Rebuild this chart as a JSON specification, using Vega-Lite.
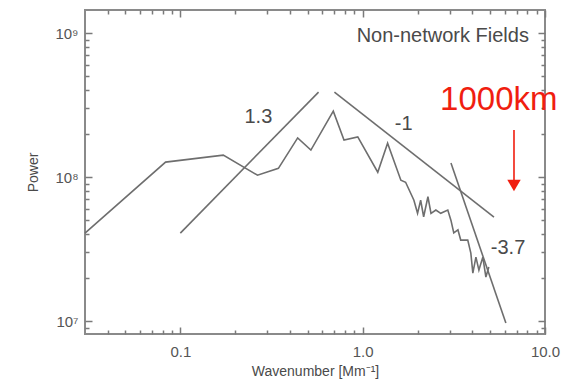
{
  "$schema": "https://vega.github.io/schema/vega-lite/v6.json",
  "width": 460,
  "height": 324,
  "autosize": "none",
  "padding": {"left": 85, "top": 10, "right": 30, "bottom": 46},
  "config": {
    "view": {"stroke": "#8a8a8a", "strokeWidth": 2},
    "font": "Liberation Sans",
    "axis": {
      "domain": false,
      "grid": false,
      "ticks": true,
      "tickColor": "#7a7a7a",
      "tickWidth": 1.5,
      "labelColor": "#555555",
      "labelFontSize": 15,
      "labelOverlap": false,
      "labelFlush": false,
      "labelBound": false,
      "titleColor": "#4a4a4a",
      "titleFontSize": 14,
      "titleFontWeight": "normal"
    }
  },
  "datasets": {
    "curves": [
      {"s": "spectrum", "x": 0.030, "y": 4.08e7},
      {"s": "spectrum", "x": 0.083, "y": 1.27e8},
      {"s": "spectrum", "x": 0.172, "y": 1.42e8},
      {"s": "spectrum", "x": 0.265, "y": 1.03e8},
      {"s": "spectrum", "x": 0.345, "y": 1.15e8},
      {"s": "spectrum", "x": 0.44, "y": 1.87e8},
      {"s": "spectrum", "x": 0.52, "y": 1.54e8},
      {"s": "spectrum", "x": 0.69, "y": 2.87e8},
      {"s": "spectrum", "x": 0.79, "y": 1.81e8},
      {"s": "spectrum", "x": 0.94, "y": 1.9e8},
      {"s": "spectrum", "x": 1.21, "y": 1.08e8},
      {"s": "spectrum", "x": 1.37, "y": 1.72e8},
      {"s": "spectrum", "x": 1.62, "y": 9.5e7},
      {"s": "spectrum", "x": 1.72, "y": 9.2e7},
      {"s": "spectrum", "x": 1.91, "y": 6.9e7},
      {"s": "spectrum", "x": 2.00, "y": 5.6e7},
      {"s": "spectrum", "x": 2.08, "y": 6.9e7},
      {"s": "spectrum", "x": 2.16, "y": 5.3e7},
      {"s": "spectrum", "x": 2.28, "y": 7.3e7},
      {"s": "spectrum", "x": 2.37, "y": 5.6e7},
      {"s": "spectrum", "x": 2.52, "y": 5.9e7},
      {"s": "spectrum", "x": 2.68, "y": 5.6e7},
      {"s": "spectrum", "x": 2.93, "y": 5.9e7},
      {"s": "spectrum", "x": 3.05, "y": 5.0e7},
      {"s": "spectrum", "x": 3.16, "y": 4.1e7},
      {"s": "spectrum", "x": 3.33, "y": 4.3e7},
      {"s": "spectrum", "x": 3.45, "y": 3.65e7},
      {"s": "spectrum", "x": 3.77, "y": 3.65e7},
      {"s": "spectrum", "x": 3.92, "y": 2.96e7},
      {"s": "spectrum", "x": 4.02, "y": 2.15e7},
      {"s": "spectrum", "x": 4.18, "y": 2.78e7},
      {"s": "spectrum", "x": 4.34, "y": 2.26e7},
      {"s": "spectrum", "x": 4.56, "y": 2.78e7},
      {"s": "spectrum", "x": 4.74, "y": 2.02e7},
      {"s": "spectrum", "x": 4.92, "y": 2.37e7},
      {"s": "slope 1.3", "x": 0.1, "y": 4.08e7},
      {"s": "slope 1.3", "x": 0.573, "y": 3.89e8},
      {"s": "slope -1", "x": 0.70, "y": 3.89e8},
      {"s": "slope -1", "x": 5.25, "y": 5.27e7},
      {"s": "slope -3.7", "x": 3.05, "y": 1.25e8},
      {"s": "slope -3.7", "x": 6.1, "y": 9.7e6}
    ],
    "labels": [
      {"t": "1.3", "x": 0.268, "y": 2.61e8},
      {"t": "-1", "x": 1.68, "y": 2.33e8},
      {"t": "-3.7", "x": 6.27, "y": 3.2e7},
      {"t": "Non-network Fields", "x": 2.75, "y": 9.5e8}
    ],
    "note": [
      {"t": "1000km", "x": 5.58, "y": 3.43e8}
    ],
    "arrow": [
      {"x": 6.76, "y": 2.12e8, "y2": 8.6e7, "yh": 8.73e7}
    ]
  },
  "layer": [
    {
      "data": {"name": "curves"},
      "mark": {"type": "line", "color": "#6e6e6e", "strokeWidth": 1.6},
      "encoding": {
        "x": {
          "field": "x", "type": "quantitative",
          "scale": {"type": "log", "domain": [0.03, 10], "nice": false},
          "axis": {
            "orient": "bottom",
            "title": "Wavenumber [Mm⁻¹]",
            "titlePadding": 5,
            "values": [0.1, 1, 10],
            "tickSize": -7,
            "labelPadding": 17,
            "labelExpr": "datum.value < 0.5 ? '0.1' : (datum.value < 5 ? '1.0' : '10.0')"
          }
        },
        "y": {
          "field": "y", "type": "quantitative",
          "scale": {"type": "log", "domain": [8.13e6, 1.446e9], "nice": false},
          "axis": {
            "orient": "left",
            "title": "Power",
            "titlePadding": 14,
            "values": [1e7, 1e8, 1e9],
            "tickSize": -7,
            "labelPadding": 14,
            "labelExpr": "datum.value < 5e7 ? '10⁷' : (datum.value < 5e8 ? '10⁸' : '10⁹')"
          }
        },
        "detail": {"field": "s", "type": "nominal"}
      }
    },
    {
      "data": {"name": "labels"},
      "mark": {"type": "text", "fontSize": 20, "color": "#4a4a4a", "align": "center", "baseline": "middle"},
      "encoding": {
        "x": {
          "field": "x", "type": "quantitative",
          "scale": {"type": "log", "domain": [0.03, 10], "nice": false},
          "axis": {
            "orient": "bottom", "title": null, "labels": false,
            "values": [0.04,0.05,0.06,0.07,0.08,0.09,0.2,0.3,0.4,0.5,0.6,0.7,0.8,0.9,2,3,4,5,6,7,8,9],
            "tickSize": -4
          }
        },
        "y": {
          "field": "y", "type": "quantitative",
          "scale": {"type": "log", "domain": [8.13e6, 1.446e9], "nice": false},
          "axis": {
            "orient": "left", "title": null, "labels": false,
            "values": [9e6,2e7,3e7,4e7,5e7,6e7,7e7,8e7,9e7,2e8,3e8,4e8,5e8,6e8,7e8,8e8,9e8],
            "tickSize": -4
          }
        },
        "text": {"field": "t", "type": "nominal"}
      }
    },
    {
      "data": {"name": "note"},
      "mark": {"type": "text", "fontSize": 33, "color": "#f01e10", "align": "center", "baseline": "middle"},
      "encoding": {
        "x": {
          "field": "x", "type": "quantitative",
          "scale": {"type": "log", "domain": [0.03, 10], "nice": false},
          "axis": {"orient": "top", "title": null, "labels": false, "values": [0.1, 1, 10], "tickSize": -7}
        },
        "y": {
          "field": "y", "type": "quantitative",
          "scale": {"type": "log", "domain": [8.13e6, 1.446e9], "nice": false},
          "axis": {"orient": "right", "title": null, "labels": false, "values": [1e7, 1e8, 1e9], "tickSize": -7}
        },
        "text": {"field": "t", "type": "nominal"}
      }
    },
    {
      "data": {"name": "arrow"},
      "mark": {"type": "rule", "color": "#f01e10", "strokeWidth": 1.6},
      "encoding": {
        "x": {
          "field": "x", "type": "quantitative",
          "scale": {"type": "log", "domain": [0.03, 10], "nice": false},
          "axis": {
            "orient": "top", "title": null, "labels": false,
            "values": [0.04,0.05,0.06,0.07,0.08,0.09,0.2,0.3,0.4,0.5,0.6,0.7,0.8,0.9,2,3,4,5,6,7,8,9],
            "tickSize": -4
          }
        },
        "y": {
          "field": "y", "type": "quantitative",
          "scale": {"type": "log", "domain": [8.13e6, 1.446e9], "nice": false},
          "axis": {
            "orient": "right", "title": null, "labels": false,
            "values": [9e6,2e7,3e7,4e7,5e7,6e7,7e7,8e7,9e7,2e8,3e8,4e8,5e8,6e8,7e8,8e8,9e8],
            "tickSize": -4
          }
        },
        "y2": {"field": "y2"}
      }
    },
    {
      "data": {"name": "arrow"},
      "mark": {"type": "point", "shape": "triangle-down", "filled": true, "color": "#f01e10", "size": 180, "opacity": 1},
      "encoding": {
        "x": {"field": "x", "type": "quantitative", "axis": null},
        "y": {"field": "yh", "type": "quantitative", "axis": null}
      }
    }
  ],
  "resolve": {"axis": {"x": "independent", "y": "independent"}}
}
